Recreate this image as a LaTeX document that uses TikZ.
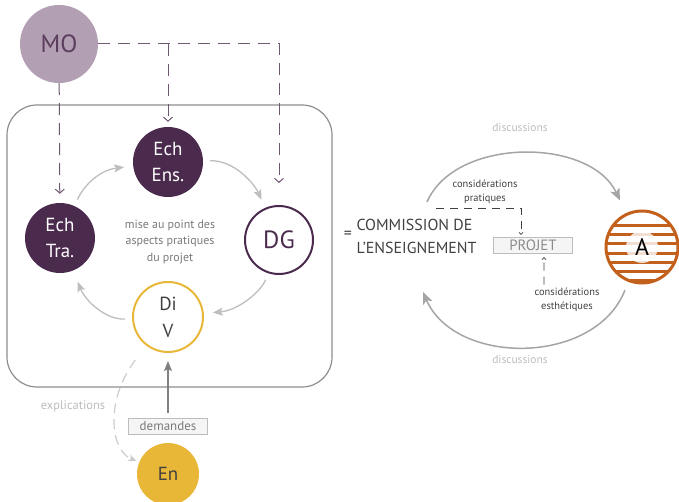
\documentclass[tikz,border=0pt]{standalone}
\usepackage{fontspec}
\setmainfont{PT Sans}
\usetikzlibrary{arrows.meta, positioning, calc}

\definecolor{mauve}{HTML}{B29FB3}
\definecolor{mauvetext}{HTML}{5C3D5E}
\definecolor{mauveline}{HTML}{6F5671}
\definecolor{plum}{HTML}{4B2B4D}
\definecolor{ochre}{HTML}{E8B737}
\definecolor{rust}{HTML}{C2601C}
\definecolor{cyclegray}{HTML}{BEBEBE}
\definecolor{framegray}{HTML}{8E8E8E}
\definecolor{textgray}{HTML}{7A7A7A}
\definecolor{softgray}{HTML}{BDBDBD}
\definecolor{discgray}{HTML}{A5A5A5}
\definecolor{inkgray}{HTML}{404040}

\begin{document}
\begin{tikzpicture}[x=1bp, y=-1bp,
  bubble/.style={circle, inner sep=0pt, minimum size=70bp, align=center,
    font=\fontsize{19}{27}\selectfont},
  darkbubble/.style={bubble, fill=plum, text=white},
  cyclearrow/.style={draw=cyclegray, line width=1.3bp,
    -{Stealth[length=10bp,width=8bp,inset=2bp]}, shorten <=7bp, shorten >=9bp},
  molink/.style={draw=mauveline, line width=1bp, dash pattern=on 12bp off 8bp,
    -{Straight Barb[length=4bp,width=9bp]}},
  tag/.style={draw=softgray, fill=black!4, inner sep=0pt, minimum width=79bp,
    minimum height=16bp},
  disclabel/.style={text=softgray, font=\fontsize{11.5}{14}\selectfont},
  discarrow/.style={draw=discgray, line width=1.5bp,
    -{Stealth[length=12bp,width=10bp,inset=3bp]}},
  note/.style={align=center, text=inkgray, font=\fontsize{10.5}{14}\selectfont},
  notelink/.style={draw=inkgray, line width=0.7bp, dash pattern=on 8bp off 6bp,
    -{Straight Barb[length=2bp,width=4bp]}}]

\useasboundingbox (0,0) rectangle (679,502);

% cadre de la commission
\draw[framegray, line width=1.2bp, rounded corners=30bp] (7,105) rectangle (332,387);

% acteurs
\node[bubble, fill=mauve, text=mauvetext, minimum size=78bp,
  font=\fontsize{25}{30}\selectfont] (mo) at (59,44) {MO};
\node[darkbubble] (ens) at (168,162) {Ech\\Ens.};
\node[darkbubble] (tra) at (60,238) {Ech\\Tra.};
\node[bubble, draw=plum, line width=2bp, text=plum, minimum size=68bp,
  font=\fontsize{25}{30}\selectfont] (dg) at (279,240) {DG};
\node[bubble, draw=ochre, line width=2bp, text=inkgray] (div) at (168,317) {Di\\V};
\node[bubble, fill=ochre, text=inkgray, minimum size=62bp] (en) at (168,474) {En};

\node[align=center, text=textgray, font=\fontsize{12}{16.5}\selectfont] (mise) at (170,242)
  {mise au point des\\aspects pratiques\\du projet};

% liens du MO
\draw[molink, shorten >=9bp] (mo) -- (tra);
\draw[molink, shorten >=22bp] (mo) -- (dg |- mo) -- (dg);
\draw[molink, shorten >=5bp] (ens |- mo) -- (ens);

% cycle
\draw[cyclearrow] (tra) .. controls (84,185) and (100,170) .. (ens);
\draw[cyclearrow] (ens) .. controls (235,160) and (255,185) .. (dg);
\draw[cyclearrow] (dg) .. controls (262,290) and (240,310) .. (div);
\draw[cyclearrow, shorten >=12bp] (div) .. controls (105,320) and (85,300) .. (tra);

% demandes / explications
\node[tag, text=textgray, font=\fontsize{13}{13}\selectfont] (dem) at (168,426) {demandes};
\draw[draw=black!50, line width=1.5bp, -{Stealth[length=10bp,width=8bp,inset=2bp]},
  shorten <=5bp, shorten >=8bp] (dem) -- (div);
\node[text=softgray, font=\fontsize{12.5}{14}\selectfont] (expl) at (73,406) {explications};
\draw[draw=black!20, line width=1.2bp, dash pattern=on 10bp off 6bp,
  -{Stealth[length=8bp,width=7bp,inset=2bp]}, shorten <=18bp, shorten >=3bp]
  (div) .. controls (105,400) and (110,450) .. (en);

% commission de l'enseignement
\node[text=inkgray, font=\fontsize{16}{16}\selectfont] (eq) at (348,235) {=};
\node[anchor=west, align=left, text=inkgray, font=\fontsize{16}{23}\selectfont] (comm)
  at (353,236) {COMMISSION DE\\L’ENSEIGNEMENT};

% architecte
\coordinate (ac) at (642,247);
\begin{scope}
  \clip (ac) circle (36bp);
  \foreach \y in {226,235,...,280}
    \draw[rust, line width=3bp] (600,\y) -- (690,\y);
  \fill[white, opacity=0.8] (ac) circle (16bp);
\end{scope}
\node[circle, draw=rust, line width=3bp, minimum size=72bp, inner sep=0pt,
  font=\fontsize{24}{24}\selectfont] (a) at (ac) {A};

% discussions
\coordinate (dtop) at (427,202);
\coordinate (dbot) at (423,292);
\draw[discarrow, shorten >=14bp] (dtop) .. controls (455,137) and (590,137) .. (a);
\draw[discarrow, shorten <=9bp] (a) .. controls (595,366) and (455,366) .. (dbot);
\node[disclabel] (disctop) at (520,128) {discussions};
\node[disclabel] (discbot) at (520,360) {discussions};

% projet
\node[tag, text=black!45, font=\fontsize{15}{15}\selectfont] (projet) at (533,245) {PROJET};
\node[note] (cp) at (485,192) {considérations\\pratiques};
\node[note] (ce) at (567,300) {considérations\\esthétiques};
\coordinate (cpstart) at (436,208);
\draw[notelink, shorten >=2bp] (cpstart) -| ([xshift=-12bp]projet.north);
\draw[notelink, shorten >=4bp] ([xshift=-23bp]ce.north) -- ([xshift=11bp]projet.south);

\end{tikzpicture}
\end{document}
